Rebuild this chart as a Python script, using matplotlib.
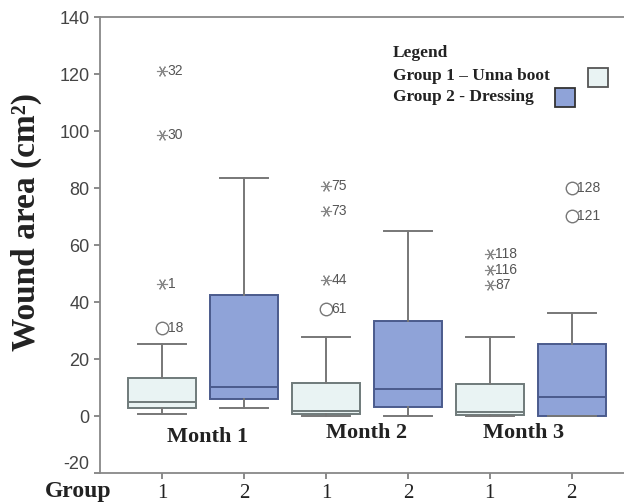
"""
box plot of wound area by month and treatment group
"""
import matplotlib.pyplot as plt
from matplotlib.patches import Rectangle

plt.rcParams['axes.unicode_minus'] = False

# box statistics per box, order: M1 G1, M1 G2, M2 G1, M2 G2, M3 G1, M3 G2
groups = ['1', '2', '1', '2', '1', '2']
months = ['Month 1', 'Month 2', 'Month 3']
q1 = [2.7, 6.1, 0.7, 3.0, 0.2, 0.0]
med = [4.8, 10.3, 1.9, 9.4, 1.3, 6.7]
q3 = [13.5, 42.3, 11.5, 33.2, 11.2, 25.4]
whislo = [0.6, 2.8, 0.1, 0.1, 0.1, 0.0]
whishi = [25.1, 83.4, 27.6, 65.0, 27.8, 36.0]

# outliers: (box index, value, case id, kind)  kind: 'o' mild, '*' extreme
out_box = [0, 0, 0, 0, 2, 2, 2, 2, 4, 4, 4, 5, 5]
out_val = [121.2, 98.7, 46.2, 31.0, 80.7, 72.0, 47.6, 37.7, 56.7, 51.2, 46.0, 79.9, 70.2]
out_id = ['32', '30', '1', '18', '75', '73', '44', '61', '118', '116', '87', '128', '121']
out_kind = ['*', '*', '*', 'o', '*', '*', '*', 'o', '*', '*', '*', 'o', 'o']

light_fill = '#e9f3f3'
light_edge = '#6f7a7a'
dark_fill = '#8fa3d8'
dark_edge = '#4b5b8c'
gray = '#777777'

serif = 'Liberation Serif'
sans = 'Liberation Sans'

fig = plt.figure(figsize=(6.24, 5.03), dpi=100)
ax = fig.add_axes([0.160, 0.0596, 0.845, 0.9066])

positions = list(range(1, len(groups) + 1))
stats = []
for i in range(len(groups)):
    stats.append({'q1': q1[i], 'med': med[i], 'q3': q3[i],
                  'whislo': whislo[i], 'whishi': whishi[i], 'fliers': []})

bp = ax.bxp(stats, positions=positions, widths=0.83, capwidths=0.58,
            patch_artist=True, showfliers=False,
            whiskerprops=dict(color=gray, lw=1.4),
            capprops=dict(color=gray, lw=1.4))
for i, box in enumerate(bp['boxes']):
    if i % 2 == 0:
        box.set(facecolor=light_fill, edgecolor=light_edge, lw=1.4)
        bp['medians'][i].set(color=light_edge, lw=1.4)
    else:
        box.set(facecolor=dark_fill, edgecolor=dark_edge, lw=1.4)
        bp['medians'][i].set(color=dark_edge, lw=1.4)

#outliers with case labels
for b, v, cid, k in zip(out_box, out_val, out_id, out_kind):
    x = positions[b]
    if k == '*':
        ax.plot(x, v, marker=(6, 2, 90), ms=8, color='#888888', mew=0.8, ls='none')
    else:
        ax.plot(x, v, marker='o', ms=9, mfc='none', mec=gray, mew=1.0, ls='none')
    ax.annotate(cid, (x, v), xytext=(4, 0), textcoords='offset points',
                va='center', ha='left', fontsize=10, color='#555555', family=sans)

#month labels
month_x = [1.55, 3.49, 5.41]
month_y = [-7.5, -6.0, -6.0]
for mx, my, m in zip(month_x, month_y, months):
    ax.text(mx, my, m, ha='center', va='center', fontsize=16,
            fontweight='bold', family=serif, color='#222222')

#Format axes
ax.set_xlim(0.238, 6.676)
ax.set_ylim(-20, 140)
ax.set_yticks(range(-20, 141, 20))
ax.set_xticks(positions)
ax.set_xticklabels(groups, family=serif, fontsize=15, color='#222222')
ax.tick_params(axis='y', labelsize=13, labelcolor='#444444', color=gray,
               length=4, width=1.2)
ylabels = ax.get_yticklabels()
for lab in ylabels:
    lab.set_family(sans)
ylabels[0].set_verticalalignment('bottom')
ax.tick_params(axis='x', color=gray, length=4, width=1.2, pad=4)
for side in ['left', 'top', 'bottom']:
    ax.spines[side].set_color('#888888')
    ax.spines[side].set_linewidth(1.3)
ax.spines['right'].set_visible(False)

fig.text(26 / 624, 1 - 222 / 503, 'Wound area (cm\u00b2)', rotation=90,
         ha='center', va='center', fontsize=24, fontweight='bold',
         family=serif, color='#222222')
fig.text(78 / 624, 1 - 491 / 503, 'Group', ha='center', va='center',
         fontsize=17, fontweight='bold', family=serif, color='#222222')

#legend drawn by hand like the original
leg_x = 393 / 624
fig.text(leg_x, 1 - 53 / 503, 'Legend', ha='left', va='center', fontsize=12.5,
         fontweight='bold', family=serif, color='#222222')
fig.text(leg_x, 1 - 76 / 503, 'Group 1 \u2013 Unna boot', ha='left', va='center',
         fontsize=12.5, fontweight='bold', family=serif, color='#222222')
fig.text(leg_x, 1 - 97 / 503, 'Group 2 - Dressing', ha='left', va='center',
         fontsize=12.5, fontweight='bold', family=serif, color='#222222')
fig.patches.append(Rectangle((588 / 624, 1 - 87 / 503), 20 / 624, 19 / 503,
                             transform=fig.transFigure, facecolor=light_fill,
                             edgecolor='#555555', lw=1.3))
fig.patches.append(Rectangle((555 / 624, 1 - 107 / 503), 20 / 624, 19 / 503,
                             transform=fig.transFigure, facecolor=dark_fill,
                             edgecolor='#333333', lw=1.3))

fig.savefig('out.png', dpi=100)
